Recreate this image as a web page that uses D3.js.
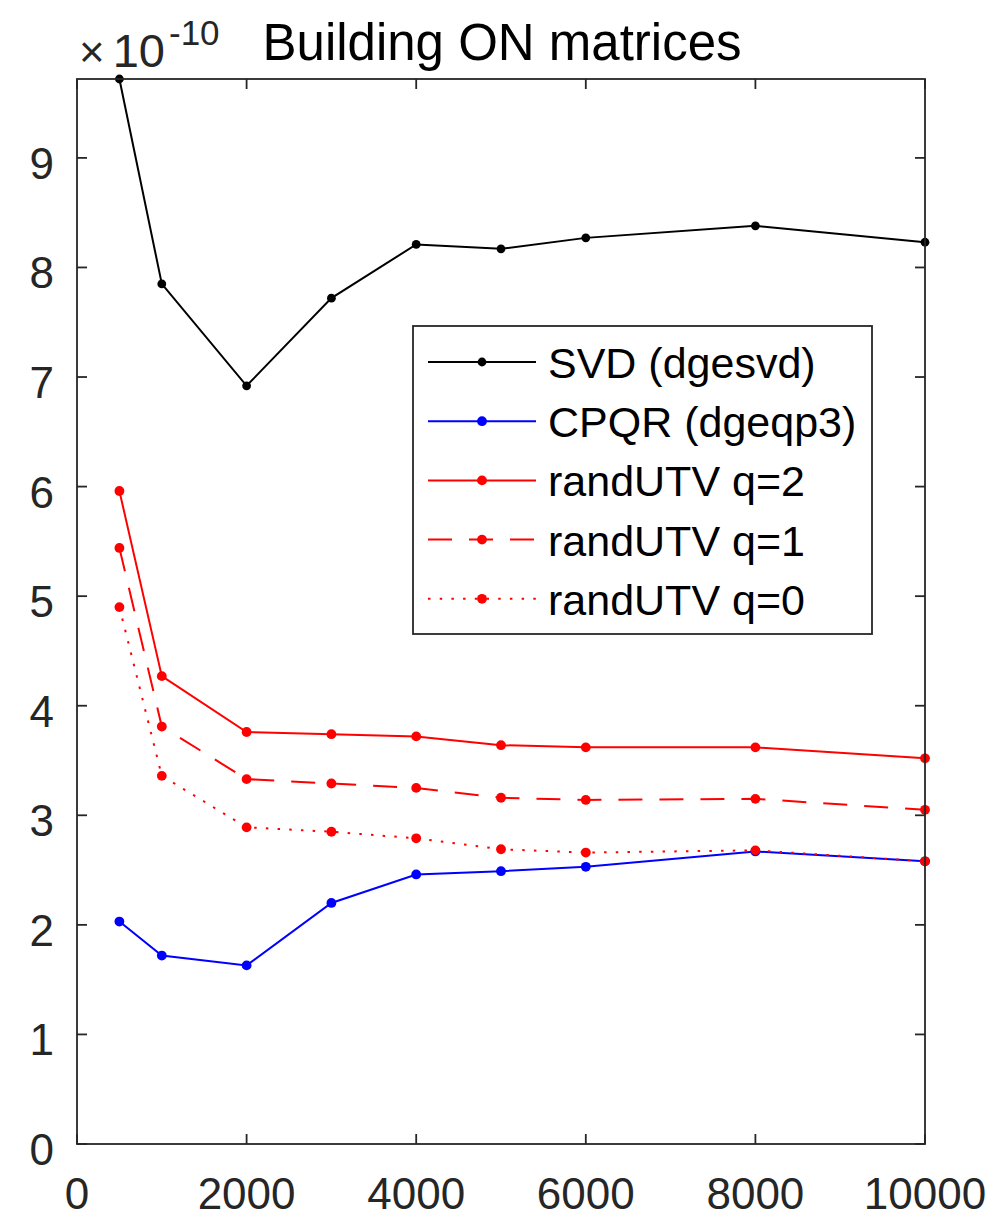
<!DOCTYPE html>
<html lang="en">
<head>
    <meta charset="UTF-8">
    <title>Building ON matrices</title>
    <script src="https://d3js.org/d3.v7.min.js"></script>
    <style>
        body { margin: 0; background: #fff; }
        text { font-family: "Liberation Sans", Arial, Helvetica, sans-serif; }
    </style>
</head>
<body>
    <div id="chart"></div>
    <script>
        // matrix sizes n
        const sizes = [500, 1000, 2000, 3000, 4000, 5000, 6000, 8000, 10000];

        // values in units of 1e-10
        const svdVals  = [9.72, 7.85, 6.92, 7.72, 8.21, 8.17, 8.27, 8.38, 8.23];
        const cpqrVals = [2.03, 1.72, 1.63, 2.20, 2.46, 2.49, 2.53, 2.67, 2.58];
        const utvQ2    = [5.96, 4.27, 3.76, 3.74, 3.72, 3.64, 3.62, 3.62, 3.52];
        const utvQ1    = [5.44, 3.81, 3.33, 3.29, 3.25, 3.16, 3.14, 3.15, 3.05];
        const utvQ0    = [4.90, 3.36, 2.89, 2.85, 2.79, 2.69, 2.66, 2.68, 2.58];

        const seriesNames = ['SVD (dgesvd)', 'CPQR (dgeqp3)', 'randUTV q=2', 'randUTV q=1', 'randUTV q=0'];
        const xTicks = [0, 2000, 4000, 6000, 8000, 10000];
        const yTicks = [0, 1, 2, 3, 4, 5, 6, 7, 8, 9];

        const series = [
            { name: seriesNames[0], values: svdVals,  color: '#000000', dash: null, r: 4.4 },
            { name: seriesNames[1], values: cpqrVals, color: '#0000ff', dash: null, r: 4.9 },
            { name: seriesNames[2], values: utvQ2,    color: '#ff0000', dash: null, r: 4.9 },
            { name: seriesNames[3], values: utvQ1,    color: '#ff0000', dash: '24,17', r: 4.9 },
            { name: seriesNames[4], values: utvQ0,    color: '#ff0000', dash: '2.5,9.2', r: 4.9 }
        ];

        const width = 995, height = 1219;
        const plotL = 77, plotR = 925, plotT = 79, plotB = 1144;
        const axisColor = '#262626';

        const svg = d3.select('#chart').append('svg')
            .attr('width', width)
            .attr('height', height);

        const x = d3.scaleLinear().domain([0, 10000]).range([plotL, plotR]);
        const y = d3.scaleLinear().domain([0, 9.72]).range([plotB, plotT]);

        // data lines
        const line = d3.line()
            .x((d, i) => x(sizes[i]))
            .y(d => y(d));

        series.forEach(s => {
            svg.append('path')
                .datum(s.values)
                .attr('fill', 'none')
                .attr('stroke', s.color)
                .attr('stroke-width', 2)
                .attr('stroke-dasharray', s.dash)
                .attr('d', line);
            svg.append('g').selectAll('circle')
                .data(s.values)
                .enter().append('circle')
                .attr('cx', (d, i) => x(sizes[i]))
                .attr('cy', d => y(d))
                .attr('r', s.r)
                .attr('fill', s.color);
        });

        // axes box with inward ticks on all four sides
        const tickLen = 10;
        const axes = svg.append('g');
        axes.append('rect')
            .attr('x', plotL).attr('y', plotT)
            .attr('width', plotR - plotL).attr('height', plotB - plotT)
            .attr('fill', 'none')
            .attr('stroke', axisColor)
            .attr('stroke-width', 1.8);

        xTicks.forEach(t => {
            axes.append('line')
                .attr('x1', x(t)).attr('x2', x(t))
                .attr('y1', plotB).attr('y2', plotB - tickLen)
                .attr('stroke', axisColor).attr('stroke-width', 1.8);
            axes.append('line')
                .attr('x1', x(t)).attr('x2', x(t))
                .attr('y1', plotT).attr('y2', plotT + tickLen)
                .attr('stroke', axisColor).attr('stroke-width', 1.8);
            axes.append('text')
                .attr('x', x(t))
                .attr('y', plotB + 65)
                .attr('text-anchor', 'middle')
                .attr('font-size', 44)
                .attr('fill', axisColor)
                .text(t);
        });

        yTicks.forEach(t => {
            axes.append('line')
                .attr('x1', plotL).attr('x2', plotL + tickLen)
                .attr('y1', y(t)).attr('y2', y(t))
                .attr('stroke', axisColor).attr('stroke-width', 1.8);
            axes.append('line')
                .attr('x1', plotR).attr('x2', plotR - tickLen)
                .attr('y1', y(t)).attr('y2', y(t))
                .attr('stroke', axisColor).attr('stroke-width', 1.8);
            axes.append('text')
                .attr('x', 54)
                .attr('y', y(t) + 21)
                .attr('text-anchor', 'end')
                .attr('font-size', 44)
                .attr('fill', axisColor)
                .text(t);
        });

        // exponent label (x10^-10)
        const expo = svg.append('text')
            .attr('x', 79)
            .attr('y', 67)
            .attr('fill', axisColor)
            .attr('font-size', 47);
        expo.append('tspan').attr('font-size', 44).text('\u00d7');
        expo.append('tspan').attr('dx', 8).text('10');
        expo.append('tspan').attr('font-size', 35).attr('dx', 4).attr('dy', -22).text('-10');

        // title
        svg.append('text')
            .attr('x', 502)
            .attr('y', 60)
            .attr('text-anchor', 'middle')
            .attr('font-size', 51)
            .attr('fill', '#000')
            .text('Building ON matrices');

        // legend
        const lg = svg.append('g');
        lg.append('rect')
            .attr('x', 413).attr('y', 326)
            .attr('width', 459).attr('height', 308)
            .attr('fill', '#fff')
            .attr('stroke', axisColor)
            .attr('stroke-width', 1.8);

        series.forEach((s, i) => {
            const ry = 362 + i * 59.2;
            lg.append('line')
                .attr('x1', 428).attr('x2', 536)
                .attr('y1', ry).attr('y2', ry)
                .attr('stroke', s.color)
                .attr('stroke-width', 2)
                .attr('stroke-dasharray', s.dash);
            lg.append('circle')
                .attr('cx', 482).attr('cy', ry)
                .attr('r', s.r)
                .attr('fill', s.color);
            lg.append('text')
                .attr('x', 548)
                .attr('y', ry + 16)
                .attr('font-size', 43)
                .attr('fill', '#000')
                .text(s.name);
        });
    </script>
</body>
</html>
